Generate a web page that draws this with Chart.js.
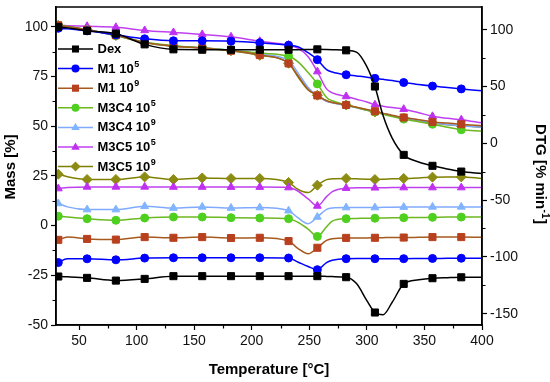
<!DOCTYPE html>
<html><head><meta charset="utf-8">
<script src="https://cdn.jsdelivr.net/npm/chart.js@4.4.0/dist/chart.umd.min.js"></script>
<style>html,body{margin:0;padding:0;background:#fff}#wrap{width:550px;height:382px}</style>
</head><body><div id="wrap"><canvas id="c" width="550" height="382"></canvas></div>
<script>
// ---- data ----
const temps = [30, 32, 40, 57, 82, 107, 132, 157, 182, 207, 232, 240, 249, 257, 265, 270, 282, 291, 300, 307, 314, 322, 332, 345, 357, 370, 382, 400];
const markerTemps = [32, 57, 82, 107, 132, 157, 182, 207, 232, 257, 282, 307, 332, 357, 382];
const seriesNames = ['Dex', 'M1 10^5', 'M1 10^9', 'M3C4 10^5', 'M3C4 10^9', 'M3C5 10^5', 'M3C5 10^9'];

// TG curves, Mass [%]
const tgDex    = [100.5, 100, 99.5, 98, 96.6, 91.2, 88.7, 88.5, 88.5, 88.5, 88.5, 88.5, 88.6, 88.7, 88.6, 88.5, 88.2, 87.3, 80, 70, 55.5, 44, 35.6, 32, 30.1, 28.5, 27.2, 26.2];
const tgM1a    = [99.5, 99.3, 99, 98, 96, 94, 93, 93, 92.8, 92, 90.8, 90, 87, 83.5, 78.5, 77.3, 75.9, 75.3, 74.7, 74.1, 73.6, 73, 72, 71, 70.2, 69.5, 68.8, 67.8];
const tgM1b    = [101, 100.8, 100.2, 98.5, 95.8, 92.2, 90.3, 89.4, 88, 85.8, 81.6, 75.5, 68.5, 65.5, 62.8, 62, 60.7, 59.6, 58.4, 57.5, 56.6, 55.5, 54.4, 53.3, 52.2, 51.6, 51, 50.3];
const tgM3C4a  = [101, 100.8, 100.2, 98.5, 95.6, 92.4, 90.5, 89.4, 88.3, 86.8, 85.2, 82.5, 77, 71.3, 64.5, 62.8, 60.7, 59.4, 58.1, 57.2, 56.1, 54.9, 53.6, 52.3, 51, 49.5, 48.2, 47.5];
const tgM3C4b  = [101, 100.8, 100.2, 98.5, 95.7, 92.2, 90.4, 89.5, 88.2, 86.2, 83, 77, 69.5, 65.3, 62.6, 61.8, 60.5, 59.3, 58, 57.2, 56.4, 55.3, 54.2, 53, 51.8, 50.9, 50.2, 49.5];
const tgM3C5a  = [101, 100.8, 100.6, 100.3, 99.8, 98.2, 97.2, 96.2, 95, 92.8, 90.8, 89.3, 85, 77.5, 68.8, 66.8, 65, 63.6, 62.2, 60.8, 60.1, 59.4, 58.6, 56.8, 55, 54, 53.3, 51.7];
const tgM3C5b  = [101, 100.8, 100.2, 98.6, 95.7, 92, 90.3, 89.5, 88, 85.7, 81.7, 75, 68.3, 65.6, 62.8, 62, 60.7, 59.5, 58.2, 57.2, 56.3, 55.2, 54.1, 52.9, 51.8, 50.8, 50.2, 49.6];

// DTG curves, DTG [% min-1]
const dtgDex   = [-117.3, -117.3, -117.6, -118.5, -120.9, -119.4, -117, -117, -117, -117, -117, -117, -117, -117, -117.2, -117.4, -117.9, -123.5, -138.5, -149, -151, -140, -123.8, -120.2, -118.8, -118.3, -118, -118];
const dtgM1a   = [-106, -105, -101.7, -101.7, -102.6, -101.1, -100.8, -100.8, -100.8, -100.8, -101, -104.5, -108.5, -111.3, -105, -103, -101.6, -101.5, -101.5, -101.6, -101.6, -101.6, -101.6, -101.5, -101.4, -101.3, -101.2, -101.2];
const dtgM1b   = [-85.5, -85, -82.5, -84.2, -84.8, -82.6, -83.2, -82.6, -83.4, -83.2, -86.1, -92.5, -97.3, -92, -85.5, -84, -83.3, -83.3, -83.3, -83.2, -83.1, -83, -83, -82.8, -82.6, -82.6, -82.6, -82.7];
const dtgM3C4a = [-64, -64.2, -65, -66.4, -67.8, -65.8, -64.9, -64.9, -65.5, -65.8, -66.4, -69.5, -75.5, -82, -73.5, -68.5, -66.4, -66.2, -66, -66, -65.8, -65.6, -65.5, -65.3, -65.2, -65, -65, -65];
const dtgM3C4b = [-52.5, -53, -56, -58.4, -58.4, -55.5, -57, -56, -57, -56.6, -59.4, -65.5, -70.8, -64.9, -58.2, -57, -56.6, -56.6, -56.6, -56.6, -56.4, -56.3, -56.2, -56.1, -56, -56, -56, -56];
const dtgM3C5a = [-40, -39.9, -39, -38.4, -38.4, -38.4, -38.5, -38.5, -38.6, -38.6, -39, -42, -49, -55.2, -47, -42.5, -39.5, -39.2, -39.2, -39.2, -39.1, -39, -39, -39, -39, -39, -39, -39];
const dtgM3C5b = [-26.6, -27.2, -29.5, -31.9, -31.9, -29.6, -31.9, -30.5, -31, -31, -34.5, -40.5, -43.4, -36.9, -32, -31.3, -31, -31.3, -31.6, -31.9, -31.7, -31.3, -31, -30.5, -29.8, -29.6, -29.6, -31];

// ticks
const xTicks = [50, 100, 150, 200, 250, 300, 350, 400];
const xMinor = [75, 125, 175, 225, 275, 325, 375];
const massTicks = [-50, -25, 0, 25, 50, 75, 100];
const massMinor = [-37.5, -12.5, 12.5, 37.5, 62.5, 87.5];
const dtgTicks = [-150, -100, -50, 0, 50, 100];
const dtgMinor = [-125, -75, -25, 25, 75];

// ---- styles ----
const styles = [
  {line: '#000000', fill: '#000000', shape: 'rect', r: 5},
  {line: '#0000ff', fill: '#0000ff', shape: 'circle', r: 4},
  {line: '#a65a1e', fill: '#b8401e', shape: 'rect', r: 5},
  {line: '#6cb820', fill: '#4fd01f', shape: 'circle', r: 4},
  {line: '#80aaff', fill: '#80b4ff', shape: 'triangle', r: 4.5},
  {line: '#c040f0', fill: '#c030f0', shape: 'triangle', r: 4.5},
  {line: '#808000', fill: '#8c8c14', shape: 'rectRot', r: 5}
];
const tgSeries = [tgDex, tgM1a, tgM1b, tgM3C4a, tgM3C4b, tgM3C5a, tgM3C5b];
const dtgSeries = [dtgDex, dtgM1a, dtgM1b, dtgM3C4a, dtgM3C4b, dtgM3C5a, dtgM3C5b];

const FONT = '"Liberation Sans", Arial, sans-serif';

function mkDataset(vals, st, axis, label) {
  return {
    label: label,
    data: vals,
    yAxisID: axis,
    borderColor: st.line,
    borderWidth: 1.5,
    backgroundColor: st.fill,
    pointBackgroundColor: st.fill,
    pointBorderColor: st.fill,
    pointBorderWidth: 1,
    pointStyle: st.shape,
    pointRadius: c => markerTemps.includes(temps[c.dataIndex]) ? st.r : 0,
    pointHoverRadius: c => markerTemps.includes(temps[c.dataIndex]) ? st.r : 0,
    cubicInterpolationMode: 'monotone',
    fill: false
  };
}
const datasets = [];
tgSeries.forEach((v, i) => datasets.push(mkDataset(v, styles[i], 'yL', seriesNames[i])));
dtgSeries.forEach((v, i) => datasets.push(mkDataset(v, styles[i], 'yR', seriesNames[i] + ' DTG')));

function drawMarker(ctx, shape, x, y, r) {
  ctx.beginPath();
  if (shape === 'circle') { ctx.arc(x, y, r, 0, Math.PI * 2); }
  else if (shape === 'rect') { const s = r * Math.SQRT1_2; ctx.rect(x - s, y - s, 2 * s, 2 * s); }
  else if (shape === 'triangle') {
    const h = r * 1.5;
    ctx.moveTo(x, y - r); ctx.lineTo(x + r * 0.95, y + r * 0.6); ctx.lineTo(x - r * 0.95, y + r * 0.6); ctx.closePath();
  } else if (shape === 'rectRot') {
    ctx.moveTo(x, y - r); ctx.lineTo(x + r, y); ctx.lineTo(x, y + r); ctx.lineTo(x - r, y); ctx.closePath();
  }
  ctx.fill();
}

function drawSupText(ctx, text, x, y, size) {
  // text with ^ superscript, left aligned, baseline middle
  const parts = text.split('^');
  ctx.font = 'bold ' + size + 'px ' + FONT;
  ctx.fillText(parts[0], x, y);
  if (parts.length > 1) {
    const w = ctx.measureText(parts[0]).width;
    ctx.font = 'bold ' + Math.round(size * 0.68) + 'px ' + FONT;
    ctx.fillText(parts[1], x + w + 0.5, y - 5);
  }
}

const extras = {
  id: 'extras',
  afterDraw(chart) {
    const ctx = chart.ctx, a = chart.chartArea;
    const sx = chart.scales.x, sl = chart.scales.yL, sr = chart.scales.yR;
    ctx.save();
    ctx.strokeStyle = '#000';
    ctx.lineWidth = 1.5;
    ctx.strokeRect(a.left, a.top, a.right - a.left, a.bottom - a.top);
    ctx.lineWidth = 1.2;
    ctx.beginPath();
    xMinor.forEach(v => { const p = Math.round(sx.getPixelForValue(v)) + 0.5; ctx.moveTo(p, a.bottom); ctx.lineTo(p, a.bottom + 3.5); });
    massMinor.forEach(v => { const p = Math.round(sl.getPixelForValue(v)) + 0.5; ctx.moveTo(a.left, p); ctx.lineTo(a.left - 3.5, p); });
    dtgMinor.forEach(v => { const p = Math.round(sr.getPixelForValue(v)) + 0.5; ctx.moveTo(a.right, p); ctx.lineTo(a.right + 3.5, p); });
    ctx.stroke();

    // legend
    ctx.textBaseline = 'middle';
    ctx.textAlign = 'left';
    seriesNames.forEach((name, i) => {
      const y = 49 + i * 19.6;
      const st = styles[i];
      ctx.strokeStyle = st.line; ctx.lineWidth = 1.5;
      ctx.beginPath(); ctx.moveTo(58, y); ctx.lineTo(93, y); ctx.stroke();
      ctx.fillStyle = st.fill;
      drawMarker(ctx, st.shape, 75.5, y, st.r);
      ctx.fillStyle = '#000';
      drawSupText(ctx, name, 97.5, y + 0.5, 13);
    });

    // axis titles
    ctx.fillStyle = '#000';
    ctx.font = 'bold 15px ' + FONT;
    ctx.textAlign = 'center';
    ctx.textBaseline = 'middle';
    ctx.fillText('Temperature [°C]', (a.left + a.right) / 2, 370);
    ctx.save();
    ctx.translate(11, (a.top + a.bottom) / 2 + 1);
    ctx.rotate(-Math.PI / 2);
    ctx.fillText('Mass [%]', 0, 0);
    ctx.restore();
    ctx.save();
    ctx.translate(540, 174);
    ctx.rotate(Math.PI / 2);
    const p1 = 'DTG [% min', p2 = '-1', p3 = ']';
    ctx.font = 'bold 15px ' + FONT; const w1 = ctx.measureText(p1).width; const w3 = ctx.measureText(p3).width;
    ctx.font = 'bold 10px ' + FONT; const w2 = ctx.measureText(p2).width;
    let x0 = -(w1 + w2 + w3 + 1) / 2;
    ctx.textAlign = 'left';
    ctx.font = 'bold 15px ' + FONT; ctx.fillText(p1, x0, 0);
    ctx.font = 'bold 10px ' + FONT; ctx.fillText(p2, x0 + w1 + 0.5, -5);
    ctx.font = 'bold 15px ' + FONT; ctx.fillText(p3, x0 + w1 + w2 + 1, 0);
    ctx.restore();
    ctx.restore();
  }
};

function fixPad(s) { s.paddingTop = 0; s.paddingBottom = 0; s.paddingLeft = 0; s.paddingRight = 0; }
const gridOpts = {drawOnChartArea: false, drawTicks: true, tickLength: 5, tickColor: '#000', tickWidth: 1.2};
const borderOpts = {color: '#000', width: 1.5};
const tickFont = {family: FONT, size: 14};

new Chart(document.getElementById('c'), {
  type: 'line',
  data: {labels: temps, datasets: datasets},
  options: {
    responsive: false,
    animation: false,
    devicePixelRatio: 1,
    layout: {padding: {top: 7, left: 0, right: 0, bottom: 0}},
    plugins: {legend: {display: false}, tooltip: {enabled: false}},
    events: [],
    scales: {
      x: {
        type: 'linear', position: 'bottom', min: 30, max: 400,
        afterBuildTicks: s => { s.ticks = xTicks.map(v => ({value: v})); },
        afterFit: s => { s.height = 57; fixPad(s); },
        grid: gridOpts, border: borderOpts,
        ticks: {color: '#111', font: tickFont, padding: 3, maxRotation: 0, autoSkip: false}
      },
      yL: {
        type: 'linear', position: 'left', min: -50, max: 110,
        afterBuildTicks: s => { s.ticks = massTicks.map(v => ({value: v})); },
        afterFit: s => { s.width = 56; fixPad(s); },
        grid: gridOpts, border: borderOpts,
        ticks: {color: '#111', font: tickFont, padding: 3, autoSkip: false}
      },
      yR: {
        type: 'linear', position: 'right', min: -160, max: 120,
        afterBuildTicks: s => { s.ticks = dtgTicks.map(v => ({value: v})); },
        afterFit: s => { s.width = 68; fixPad(s); },
        grid: gridOpts, border: borderOpts,
        ticks: {color: '#111', font: tickFont, padding: 3, autoSkip: false}
      }
    }
  },
  plugins: [extras]
});
</script>
</body></html>
